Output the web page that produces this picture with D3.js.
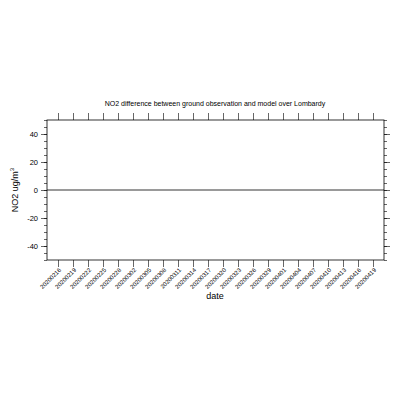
<!DOCTYPE html>
<html>
<head>
<meta charset="utf-8">
<script src="https://d3js.org/d3.v7.min.js"></script>
<style>body{margin:0;background:#fff}text{font-family:Helvetica,"Liberation Sans",Arial,sans-serif}</style>
</head>
<body>
<div id="chart"></div>
<script>
// days since 20200216, one label every 3 days
var dayTicks = d3.range(0, 64, 3);
var dayLabels = ["20200216","20200219","20200222","20200225","20200228","20200302","20200305","20200308","20200311","20200314","20200317","20200320","20200323","20200326","20200329","20200401","20200404","20200407","20200410","20200413","20200416","20200419"];
var yMajor = [-40, -20, 0, 20, 40];
var zeroLine = [0];

var w = 400, h = 400;
var svg = d3.select("#chart").append("svg").attr("width", w).attr("height", h);

var x = d3.scaleLinear().domain([-2.2, 65.2]).range([47, 384]);
var y = d3.scaleLinear().domain([-50, 50]).range([260, 120]);

svg.append("rect").attr("x", 47).attr("y", 120).attr("width", 337).attr("height", 140)
  .attr("fill", "none").attr("stroke", "#000").attr("stroke-width", 0.8);

svg.selectAll(".zero").data(zeroLine).enter().append("line")
  .attr("x1", 47).attr("x2", 384).attr("y1", d => y(d)).attr("y2", d => y(d))
  .attr("stroke", "#000").attr("stroke-width", 0.8);

// x ticks top and bottom (outward)
svg.append("g").attr("transform", "translate(0,260)")
  .call(d3.axisBottom(x).tickValues(dayTicks).tickSize(7).tickFormat(""))
  .call(g => g.select(".domain").remove());
svg.append("g").attr("transform", "translate(0,120)")
  .call(d3.axisTop(x).tickValues(dayTicks).tickSize(7).tickFormat(""))
  .call(g => g.select(".domain").remove());

svg.selectAll(".xl").data(dayTicks).enter().append("text")
  .attr("transform", d => "translate(" + (x(d) + 2) + ",269) rotate(-45)")
  .attr("text-anchor", "end").attr("font-size", 6).attr("dy", "0.35em")
  .text((d, i) => dayLabels[i]);

// y ticks
var yMinor = d3.range(-50, 51, 5);
[["l", 47, d3.axisLeft], ["r", 384, d3.axisRight]].forEach(function (s) {
  svg.append("g").attr("transform", "translate(" + s[1] + ",0)")
    .call(s[2](y).tickValues(yMinor).tickSize(3).tickFormat(""))
    .call(g => g.select(".domain").remove());
  svg.append("g").attr("transform", "translate(" + s[1] + ",0)")
    .call(s[2](y).tickValues(yMajor).tickSize(6).tickFormat(""))
    .call(g => g.select(".domain").remove());
});
svg.selectAll("g line").attr("stroke-width", 0.6);

svg.selectAll(".yl").data(yMajor).enter().append("text")
  .attr("x", 38).attr("y", d => y(d)).attr("dy", "0.35em")
  .attr("text-anchor", "end").attr("font-size", 7.5).text(d => d);

svg.append("text").attr("x", 215).attr("y", 106).attr("text-anchor", "middle")
  .attr("font-size", 7).text("NO2 difference between ground observation and model over Lombardy");

svg.append("text").attr("x", 215).attr("y", 299).attr("text-anchor", "middle")
  .attr("font-size", 9).text("date");

var yl = svg.append("text").attr("transform", "translate(18,190) rotate(-90)")
  .attr("text-anchor", "middle").attr("font-size", 9);
yl.append("tspan").text("NO2  ug/m");
yl.append("tspan").attr("font-size", 6).attr("dy", -4).text("3");
</script>
</body>
</html>
